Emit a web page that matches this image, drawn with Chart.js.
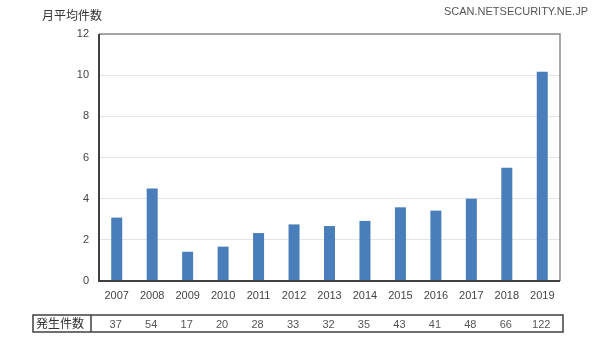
<!DOCTYPE html>
<html>
<head>
<meta charset="utf-8">
<script src="https://cdn.jsdelivr.net/npm/chart.js@4"></script>
<style>
  html, body { margin: 0; padding: 0; background: #fff; }
  #wrap { position: relative; width: 600px; height: 341px; }
</style>
</head>
<body>
<div id="wrap"><canvas id="myChart" width="600" height="341"></canvas></div>
<script>
// data
var years = ['2007', '2008', '2009', '2010', '2011', '2012', '2013', '2014', '2015', '2016', '2017', '2018', '2019'];
var monthlyAvg = [3.08, 4.5, 1.42, 1.67, 2.33, 2.75, 2.67, 2.92, 3.58, 3.42, 4.0, 5.5, 10.17];
var counts = ['37', '54', '17', '20', '28', '33', '32', '35', '43', '41', '48', '66', '122'];
var yTicks = [0, 2, 4, 6, 8, 10, 12];

var yTitle = '月平均件数';
var rowTitle = '発生件数';
var watermark = 'SCAN.NETSECURITY.NE.JP';

var fontFamily = '"Liberation Sans", "Noto Sans CJK JP", sans-serif';

// frame, table, title
var extras = {
    id: 'extras',
    afterDraw: function (chart) {
        var ctx = chart.ctx;
        var a = chart.chartArea;
        var x = chart.scales.x;
        ctx.save();

        // plot box: light top/right, dark left/bottom
        ctx.strokeStyle = '#8a8a8a';
        ctx.lineWidth = 1.5;
        ctx.beginPath();
        ctx.moveTo(a.left, a.top);
        ctx.lineTo(a.right, a.top);
        ctx.lineTo(a.right, a.bottom);
        ctx.stroke();
        ctx.strokeStyle = '#404040';
        ctx.lineWidth = 2;
        ctx.beginPath();
        ctx.moveTo(a.left, a.top);
        ctx.lineTo(a.left, a.bottom);
        ctx.lineTo(a.right, a.bottom);
        ctx.stroke();

        // y title
        ctx.fillStyle = '#333';
        ctx.font = '12px "Noto Sans CJK JP", sans-serif';
        ctx.textAlign = 'left';
        ctx.textBaseline = 'middle';
        ctx.fillText(yTitle, 42, 15);

        // watermark
        ctx.fillStyle = '#555';
        ctx.font = '11px ' + fontFamily;
        ctx.textAlign = 'right';
        ctx.fillText(watermark, 588, 12);

        // table of counts
        var tTop = 315, tBottom = 332, tLeft = 33, tRight = 563, tDiv = 91;
        ctx.strokeStyle = '#404040';
        ctx.lineWidth = 1.5;
        ctx.strokeRect(tLeft, tTop, tRight - tLeft, tBottom - tTop);
        ctx.beginPath();
        ctx.moveTo(tDiv, tTop);
        ctx.lineTo(tDiv, tBottom);
        ctx.stroke();

        ctx.fillStyle = '#333';
        ctx.font = '12px "Noto Sans CJK JP", sans-serif';
        ctx.textAlign = 'left';
        ctx.fillText(rowTitle, 36, (tTop + tBottom) / 2);

        ctx.fillStyle = '#555';
        ctx.font = '11px ' + fontFamily;
        ctx.textAlign = 'center';
        counts.forEach(function (c, i) {
            ctx.fillText(c, x.getPixelForValue(i) - 1, (tTop + tBottom) / 2 + 1);
        });
        ctx.restore();
    }
};

const ctx = document.getElementById('myChart');
const myChart = new Chart(ctx, {
    type: 'bar',
    data: {
        labels: years,
        datasets: [{
            label: yTitle,
            data: monthlyAvg,
            backgroundColor: '#4a7ebb',
            borderWidth: 0,
            barPercentage: 0.31,
            categoryPercentage: 1
        }]
    },
    options: {
        responsive: false,
        animation: false,
        layout: {
            padding: { left: 0, right: 40, top: 34, bottom: 0 }
        },
        plugins: {
            legend: { display: false },
            tooltip: { enabled: false }
        },
        scales: {
            x: {
                grid: { display: false, drawTicks: false },
                border: { display: false },
                ticks: {
                    color: '#444',
                    font: { size: 11, family: fontFamily },
                    padding: 8,
                    maxRotation: 0
                },
                afterFit: function (scale) { scale.height = 60; }
            },
            y: {
                min: 0,
                max: 12,
                afterBuildTicks: function (scale) {
                    scale.ticks = yTicks.map(function (v) { return { value: v }; });
                },
                grid: { color: '#e4e4e4', lineWidth: 1, drawTicks: false },
                border: { display: false },
                ticks: {
                    color: '#444',
                    font: { size: 11, family: fontFamily },
                    padding: 10
                },
                afterFit: function (scale) { scale.width = 99; }
            }
        }
    },
    plugins: [extras]
});
</script>
</body>
</html>
